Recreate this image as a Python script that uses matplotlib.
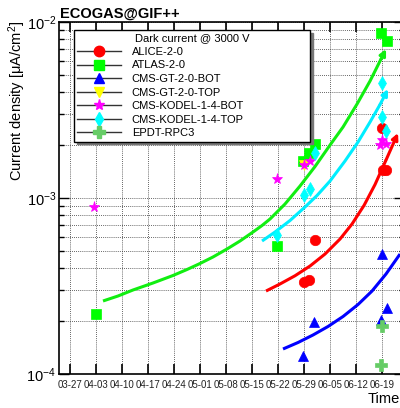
import matplotlib
matplotlib.use('Agg')
import matplotlib.pyplot as plt
import matplotlib.dates as mdates
from matplotlib.lines import Line2D
from matplotlib.ticker import LogLocator, NullFormatter
import pandas as pd

plt.rcParams['font.family'] = ['Liberation Sans', 'DejaVu Sans']
plt.rcParams['mathtext.fontset'] = 'custom'
plt.rcParams['mathtext.rm'] = 'Liberation Sans'
plt.rcParams['mathtext.it'] = 'Liberation Sans:italic'
plt.rcParams['mathtext.default'] = 'regular'

YEAR = '2022-'
T0 = pd.Timestamp('2022-03-27')

# measured dark current density (uA/cm2), date 'MM-DD HH:MM'
alice_t = ['05-29 00:00', '05-30 10:00', '06-01 00:00', '06-19 00:00', '06-19 06:00', '06-20 03:00']
alice_v = [3.33e-4, 3.42e-4, 5.77e-4, 2.50e-3, 1.44e-3, 1.44e-3]

atlas_t = ['04-03 00:00', '05-21 17:00', '05-28 17:00', '05-30 10:00', '06-01 00:00', '06-18 17:00', '06-20 10:00']
atlas_v = [2.19e-4, 5.34e-4, 1.62e-3, 1.80e-3, 2.03e-3, 8.66e-3, 7.80e-3]

gtbot_t = ['05-28 17:00', '05-31 17:00', '06-19 00:00', '06-20 10:00', '06-18 17:00']
gtbot_v = [1.26e-4, 1.97e-4, 4.81e-4, 2.37e-4, 2.03e-4]

gttop_t = ['05-29 00:00']
gttop_v = [1.54e-3]

kbot_t = ['04-02 12:00', '05-21 17:00', '05-29 00:00', '05-30 17:00', '06-19 00:00', '06-20 03:00', '06-18 12:00']
kbot_v = [8.89e-4, 1.28e-3, 1.54e-3, 1.62e-3, 2.14e-3, 2.03e-3, 2.00e-3]

ktop_t = ['05-21 17:00', '05-29 00:00', '05-30 15:00', '06-01 00:00', '06-19 00:00', '06-19 00:00', '06-20 03:00']
ktop_v = [6.16e-4, 1.04e-3, 1.12e-3, 1.80e-3, 4.50e-3, 2.88e-3, 2.40e-3]

epdt_t = ['06-19 00:00', '06-18 17:00']
epdt_v = [1.87e-4, 1.12e-4]

# fit curves (days after 03-27)
gfit_d = [8.89, 12.92, 16.96, 22.35, 27.73, 31.50, 35.00, 38.50, 42.27, 45.77, 49.27,
          51.70, 53.85, 57.89, 61.93, 65.97, 70.01, 73.51, 77.28, 80.78, 83.74, 85.08]
gfit_v = [2.599e-4, 2.774e-4, 3.001e-4, 3.289e-4, 3.628e-4, 3.924e-4, 4.244e-4, 4.622e-4,
          5.132e-4, 5.697e-4, 6.408e-4, 6.978e-4, 7.598e-4, 9.245e-4, 1.170e-3, 1.510e-3,
          2.000e-3, 2.532e-3, 3.420e-3, 4.622e-3, 6.163e-3, 7.022e-3]

cfit_d = [51.70, 55.20, 59.24, 63.27, 66.50, 70.01, 74.04, 77.54, 80.78, 83.47, 85.62]
cfit_v = [5.697e-4, 6.408e-4, 7.450e-4, 8.889e-4, 1.033e-3, 1.249e-3, 1.623e-3, 2.080e-3,
          2.703e-3, 3.398e-3, 4.162e-3]

rfit_d = [52.77, 56.54, 60.58, 64.62, 68.66, 72.70, 75.93, 79.16, 82.12, 85.08, 88.31]
rfit_v = [2.961e-4, 3.247e-4, 3.616e-4, 4.107e-4, 4.805e-4, 5.848e-4, 7.118e-4, 9.078e-4,
          1.193e-3, 1.644e-3, 2.340e-3]

bfit_d = [57.35, 61.39, 65.43, 69.47, 73.51, 77.54, 81.31, 85.08, 88.85, 92.89]
bfit_v = [1.387e-4, 1.510e-4, 1.666e-4, 1.862e-4, 2.122e-4, 2.482e-4, 2.961e-4, 3.701e-4,
          4.805e-4, 6.578e-4]

labels = ['ALICE-2-0', 'ATLAS-2-0', 'CMS-GT-2-0-BOT', 'CMS-GT-2-0-TOP',
          'CMS-KODEL-1-4-BOT', 'CMS-KODEL-1-4-TOP', 'EPDT-RPC3']
colors = ['#ff0000', '#00ff00', '#0000ff', '#ffff00', '#ff00ff', '#00ffff', '#66cc66']
markers = ['o', 's', '^', 'v', '*', 'd', 'P']
msizes = [7.5, 7, 7.5, 7.5, 8, 7.5, 8]


def dt(lst):
    return pd.to_datetime([YEAR + s for s in lst], format='%Y-%m-%d %H:%M')


def dd(days):
    return [T0 + pd.Timedelta(days=d) for d in days]


fig = plt.figure(figsize=(4, 4.08), dpi=100)
ax = fig.add_axes([59/400, 34/408, 345/400, 352/408])

# fits, arrow at the end
fits = [(gfit_d, gfit_v, '#11ee11'), (cfit_d, cfit_v, '#00eeff'),
        (rfit_d, rfit_v, '#ff0000'), (bfit_d, bfit_v, '#0000ff')]
for d, v, c in fits:
    x = dd(d)
    ax.plot(x[:-1], v[:-1], color=c, lw=2.2, zorder=2, solid_capstyle='butt')
    ax.annotate('', xy=(mdates.date2num(x[-1]), v[-1]), xytext=(mdates.date2num(x[-2]), v[-2]),
                arrowprops=dict(arrowstyle='-|>', color=c, lw=2.2, mutation_scale=9,
                                shrinkA=0, shrinkB=0), zorder=2)

series = [(alice_t, alice_v), (atlas_t, atlas_v), (gtbot_t, gtbot_v), (gttop_t, gttop_v),
          (kbot_t, kbot_v), (ktop_t, ktop_v), (epdt_t, epdt_v)]
for i, (t, v) in enumerate(series):
    ax.plot(dt(t), v, linestyle='none', marker=markers[i], ms=msizes[i],
            mfc=colors[i], mec=colors[i], mew=0.5, zorder=3)

ax.set_yscale('log')
ax.set_ylim(1e-4, 1e-2)
ax.set_xlim(pd.Timestamp('2022-03-24 01:00'), pd.Timestamp('2022-06-24 22:00'))

wk = pd.date_range('2022-03-27', '2022-06-19', freq='7D')
ax.set_xticks(wk)
ax.xaxis.set_major_formatter(mdates.DateFormatter('%m-%d'))
ax.yaxis.set_minor_locator(LogLocator(base=10, subs=range(2, 10)))
ax.yaxis.set_minor_formatter(NullFormatter())

ax.tick_params(axis='x', which='major', direction='in', length=7, width=1.2,
               top=True, labelsize=7, pad=4, labelcolor='#222222')
ax.tick_params(axis='y', which='major', direction='in', length=7, width=1.0,
               right=True, labelsize=10.5, pad=2)
ax.tick_params(axis='y', which='minor', direction='in', length=3.5, width=1.0, right=True)
for s in ax.spines.values():
    s.set_linewidth(1.2)

ax.grid(True, which='major', axis='x', color='#333333', linestyle=(0, (1, 1.5)), lw=0.6)
ax.grid(True, which='both', axis='y', color='#333333', linestyle=(0, (1, 1.5)), lw=0.6)
ax.set_axisbelow(True)

handles = [Line2D([], [], color='#333333', lw=1, marker=markers[i], ms=msizes[i],
                  mfc=colors[i], mec=colors[i]) for i in range(len(labels))]
leg = ax.legend(handles, labels, title='Dark current @ 3000 V', loc='upper left',
                bbox_to_anchor=(74/400, 1-30/408, 236/400, 0), bbox_transform=fig.transFigure,
                mode='expand', borderaxespad=0, fontsize=8, title_fontsize=8,
                handlelength=3.9, handletextpad=1.0, labelspacing=0.32, borderpad=0.3,
                fancybox=False, framealpha=1, edgecolor='black',
                shadow={'color': '#777777', 'alpha': 1})
leg.get_frame().set_linewidth(1)
leg.set_zorder(5)

fig.text(60/400, 1-18/408, 'ECOGAS@GIF++', fontsize=10.5, fontweight='bold', va='baseline', ha='left')
fig.text(17/400, 1-21/408, r'Current density [$\mu$A/cm$^2$]', rotation=90,
         fontsize=10.5, ha='center', va='top')
fig.text(399.5/400, 1-403/408, 'Time', fontsize=10.5, ha='right', va='baseline')

fig.savefig('out.png', dpi=100)
